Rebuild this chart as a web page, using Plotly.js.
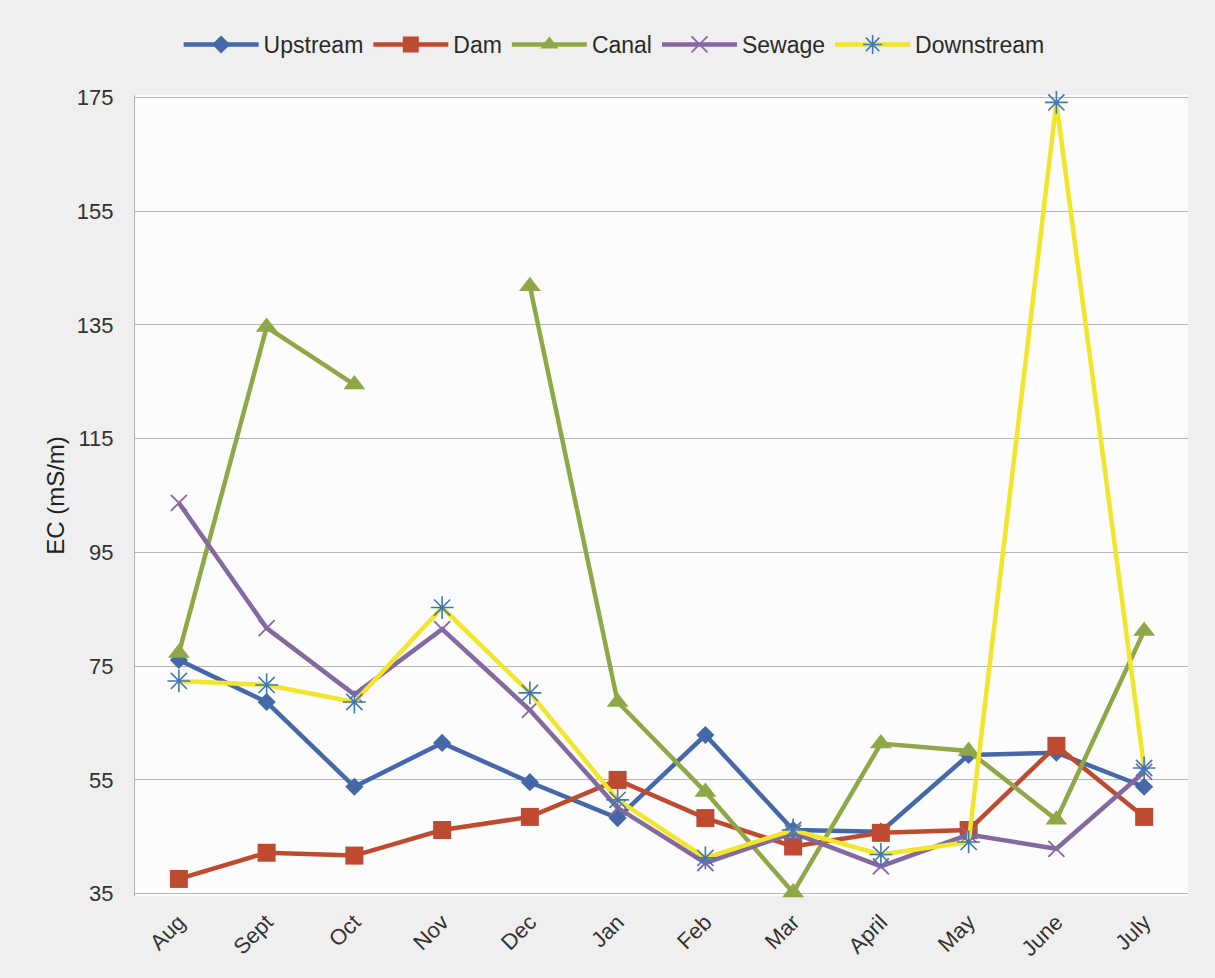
<!DOCTYPE html>
<html>
<head>
<meta charset="utf-8">
<script src="https://cdn.plot.ly/plotly-3.0.1.min.js"></script>
<style>
  html, body { margin: 0; padding: 0; background: #efefef; }
  #chart { width: 1215px; height: 978px; }
</style>
</head>
<body>
<div id="chart"></div>
<script>
const months = ["Aug", "Sept", "Oct", "Nov", "Dec", "Jan", "Feb", "Mar", "April", "May", "June", "July"];
const upstream   = [76.1, 68.7, 53.8, 61.5, 54.6, 48.3, 62.9, 46.2, 45.9, 59.4, 59.8, 53.8];
const dam        = [37.6, 42.2, 41.7, 46.2, 48.5, 55.0, 48.3, 43.3, 45.7, 46.2, 61.0, 48.5];
const canal      = [77.3, 134.6, 124.5, null, 141.8, 68.7, 52.9, 35.2, 61.4, 60.1, 48.0, 81.2];
const sewage     = [103.7, 81.7, 70.0, 81.5, 67.3, 50.1, 40.4, 45.7, 39.8, 45.4, 42.9, 56.4];
const downstream = [72.4, 71.7, 68.7, 85.3, 70.3, 51.5, 41.3, 46.2, 41.9, 44.1, 174.1, 57.1];
const yTicks = [35, 55, 75, 95, 115, 135, 155, 175];

const lw = 4.5;
const traces = [
  {name: "Upstream", y: upstream, line: {color: "#4468a8", width: lw},
   marker: {symbol: "diamond", size: 14, color: "#4468a8"}},
  {name: "Dam", y: dam, line: {color: "#be4b30", width: lw},
   marker: {symbol: "square", size: 18, color: "#be4b30"}},
  {name: "Canal", y: canal, line: {color: "#8fa847", width: lw},
   marker: {symbol: "triangle-up", size: 19, color: "#8fa847"}, connectgaps: false},
  {name: "Sewage", y: sewage, line: {color: "#8468a0", width: lw},
   marker: {symbol: "x-thin-open", size: 16, color: "#8468a0", line: {width: 1.8, color: "#8468a0"}}},
  {name: "Downstream", y: downstream, line: {color: "#f2e52a", width: lw},
   marker: {symbol: "asterisk-open", size: 19, color: "#3f78b8", line: {width: 1.6, color: "#3f78b8"}}}
].map(t => Object.assign({x: months, type: "scatter", mode: "lines+markers", cliponaxis: false}, t));

const layout = {
  width: 1215, height: 978,
  paper_bgcolor: "#efefef",
  plot_bgcolor: "#fcfcfc",
  font: {family: "Liberation Sans, Arial, sans-serif", size: 22, color: "#333333"},
  margin: {l: 135, r: 27, t: 95, b: 82},
  showlegend: true,
  legend: {orientation: "h", x: 0.455, xanchor: "center", y: 1.063, yanchor: "middle",
           font: {size: 23, color: "#2a2a2a"}, bgcolor: "rgba(0,0,0,0)", itemwidth: 75, tracegroupgap: 0},
  xaxis: {type: "category", range: [-0.5, 11.5], tickangle: -45, showgrid: false, showline: false, ticks: "",
          tickfont: {size: 22, color: "#333"}, zeroline: false, ticklabelstandoff: 8},
  yaxis: {range: [34.6, 175.4], tickmode: "array", tickvals: yTicks, ticktext: yTicks.map(String),
          showgrid: true, gridcolor: "#b5b5b5", gridwidth: 1.2, zeroline: false,
          showline: true, linecolor: "#b5b5b5", linewidth: 1.2, ticks: "", ticklen: 0,
          tickfont: {size: 22, color: "#333"}, ticklabelstandoff: 16,
          title: {text: "EC (mS/m)", font: {size: 24, color: "#222"}, standoff: 5}}
};

Plotly.newPlot("chart", traces, layout, {displayModeBar: false});
</script>
</body>
</html>
